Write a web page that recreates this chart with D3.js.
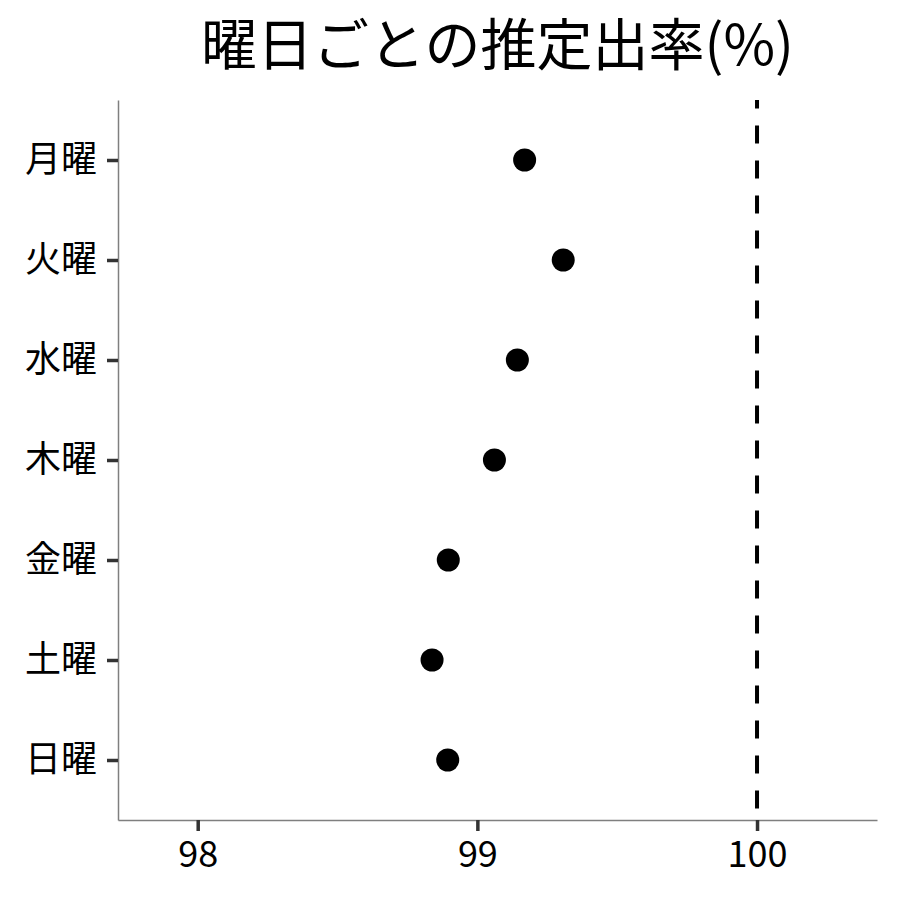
<!DOCTYPE html>
<html>
<head>
<meta charset="utf-8">
<script src="https://cdn.jsdelivr.net/npm/d3@7"></script>
<style>
  body { margin: 0; background: #fff; }
  text { font-family: "Noto Sans CJK JP", "Noto Sans", sans-serif; }
</style>
</head>
<body>
<div id="chart"></div>
<script>
// data
var days = ["月曜", "火曜", "水曜", "木曜", "金曜", "土曜", "日曜"];
var rates = [99.169, 99.307, 99.143, 99.061, 98.896, 98.838, 98.894];
var xTicks = [98, 99, 100];
var refLine = 100;
var title = "曜日ごとの推定出率(%)";

// dimensions
var W = 900, H = 900;
var margin = {top: 100, right: 23, bottom: 80, left: 118},
    width = W - margin.left - margin.right,
    height = H - margin.top - margin.bottom;

var svg = d3.select("#chart")
  .append("svg")
    .attr("width", W)
    .attr("height", H);

var g = svg.append("g")
    .attr("transform", "translate(" + margin.left + "," + margin.top + ")");

var x = d3.scaleLinear()
    .domain([97.715, 100.429])
    .range([0, width]);

var y = d3.scalePoint()
    .domain(days)
    .range([0, height])
    .padding(0.6);

// title
svg.append("text")
    .attr("x", margin.left + width / 2)
    .attr("y", 65)
    .attr("text-anchor", "middle")
    .style("font-size", "56px")
    .style("fill", "#000")
    .text(title);

// x axis
var xAxis = g.append("g")
    .attr("transform", "translate(0," + height + ")")
    .call(d3.axisBottom(x).tickValues(xTicks).tickSizeInner(11).tickSizeOuter(0)
      .tickPadding(6).tickFormat(d3.format("d")));
xAxis.select(".domain").attr("stroke", "#7f7f7f").attr("stroke-width", 1.5);
xAxis.selectAll(".tick line").attr("stroke", "#333").attr("stroke-width", 3.5);
xAxis.selectAll(".tick text").style("font-size", "36px").style("fill", "#000")
    .attr("dy", "0.83em");

// y axis
var yAxis = g.append("g")
    .call(d3.axisLeft(y).tickSizeInner(11).tickSizeOuter(0).tickPadding(10));
yAxis.select(".domain").attr("stroke", "#7f7f7f").attr("stroke-width", 1.5);
yAxis.selectAll(".tick line").attr("stroke", "#333").attr("stroke-width", 3.5);
yAxis.selectAll(".tick text").style("font-size", "36px").style("fill", "#000");

// reference line
g.append("line")
    .attr("x1", x(refLine)).attr("x2", x(refLine))
    .attr("y1", 0).attr("y2", height)
    .attr("stroke", "#000")
    .attr("stroke-width", 4)
    .attr("stroke-dasharray", "18,17")
    .attr("stroke-dashoffset", 9.6);

// points
g.selectAll("circle")
    .data(days)
    .enter()
    .append("circle")
      .attr("cx", function(d, i) { return x(rates[i]); })
      .attr("cy", function(d) { return y(d); })
      .attr("r", 11.5)
      .style("fill", "#000");
</script>
</body>
</html>
